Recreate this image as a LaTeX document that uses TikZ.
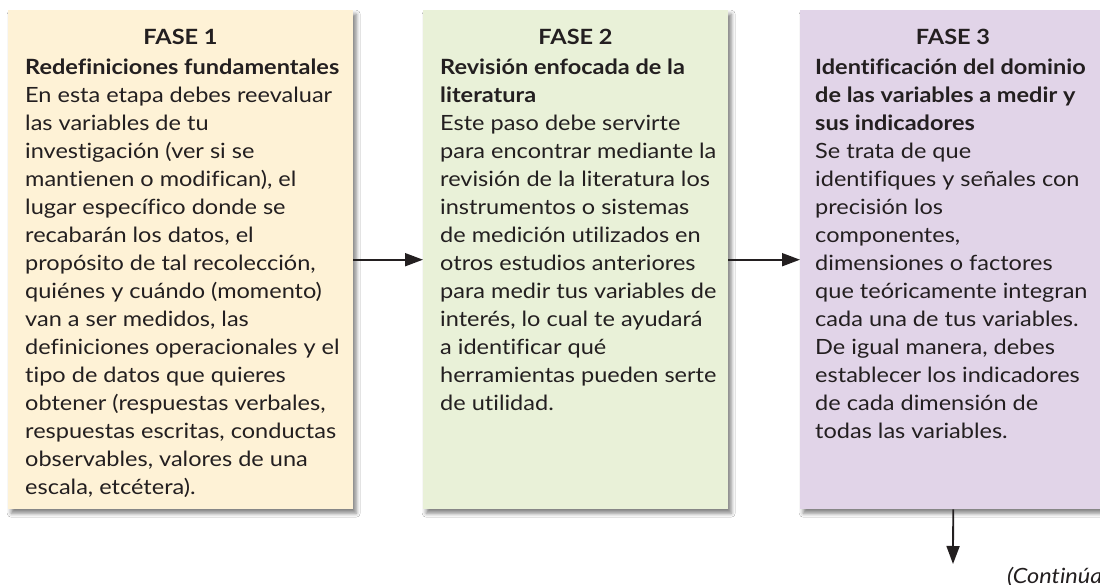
\documentclass[tikz,border=0pt]{standalone}
\usepackage{fontspec}
\setmainfont{Lato}[FakeStretch=1.12, Ligatures=NoCommon]
\usetikzlibrary{arrows.meta,shadows.blur}
\definecolor{boxA}{HTML}{FEF2D6}
\definecolor{boxB}{HTML}{E9F1D8}
\definecolor{boxC}{HTML}{E1D4E8}
\definecolor{ink}{HTML}{231F20}
\tikzset{
  phasebox/.style={draw=none, rectangle, inner sep=0pt, anchor=north west,
    blur shadow={shadow xshift=3pt, shadow yshift=-4pt, shadow blur radius=4pt, shadow opacity=50}},
  titletext/.style={inner sep=0pt, anchor=base, text=ink, font=\fontsize{21}{28}\selectfont\bfseries},
  bodytext/.style={inner sep=0pt, anchor=north west, align=left, text=ink, font=\fontsize{21}{28}\selectfont},
  conn/.style={draw=ink, line width=1.8pt, -{Triangle[length=18pt,width=13pt]}}
}
\begin{document}
\begin{tikzpicture}[x=1pt,y=-1pt]
\useasboundingbox (0,0) rectangle (1100,585);
\clip (0,0) rectangle (1100,585);
\fill[white] (0,0) rectangle (1100,585);
\node[phasebox, fill=boxA, minimum width=345pt, minimum height=499pt] (b1) at (8,10) {};
\node[phasebox, fill=boxB, minimum width=305pt, minimum height=499pt] (b2) at (423,10) {};
\node[phasebox, fill=boxC, minimum width=306pt, minimum height=499pt] (b3) at (800,10) {};

\node[titletext] (t1) at (180.5,45) {FASE 1};
\node[titletext] (t2) at (575.5,45) {FASE 2};
\node[titletext] (t3) at (953,45) {FASE 3};

\node[bodytext] (x1) at (25,59) {\textbf{Redefiniciones fundamentales}\\
En esta etapa debes reevaluar\\
las variables de tu\\
investigación (ver si se\\
mantienen o modifican), el\\
lugar específico donde se\\
recabarán los datos, el\\
propósito de tal recolección,\\
quiénes y cuándo (momento)\\
van a ser medidos, las\\
definiciones operacionales y el\\
tipo de datos que quieres\\
obtener (respuestas verbales,\\
respuestas escritas, conductas\\
observables, valores de una\\
escala, etcétera).};

\node[bodytext] (x2) at (440,59) {\textbf{Revisión enfocada de la}\\
\textbf{literatura}\\
Este paso debe servirte\\
para encontrar mediante la\\
revisión de la literatura los\\
instrumentos o sistemas\\
de medición utilizados en\\
otros estudios anteriores\\
para medir tus variables de\\
interés, lo cual te ayudará\\
a identificar qué\\
herramientas pueden serte\\
de utilidad.};

\node[bodytext] (x3) at (815,59) {\textbf{Identificación del dominio}\\
\textbf{de las variables a medir y}\\
\textbf{sus indicadores}\\
Se trata de que\\
identifiques y señales con\\
precisión los\\
componentes,\\
dimensiones o factores\\
que teóricamente integran\\
cada una de tus variables.\\
De igual manera, debes\\
establecer los indicadores\\
de cada dimensión de\\
todas las variables.};

\coordinate (c4) at (953,564);
\draw[conn] (b1.east) -- (b2.west);
\draw[conn] (b2.east) -- (b3.west);
\draw[conn] (b3.south) -- (c4);
\node[inner sep=0pt, anchor=base west, text=ink, font=\fontsize{21}{28}\selectfont\itshape] (cont) at (1007,583) {(Continúa)};
\end{tikzpicture}
\end{document}
